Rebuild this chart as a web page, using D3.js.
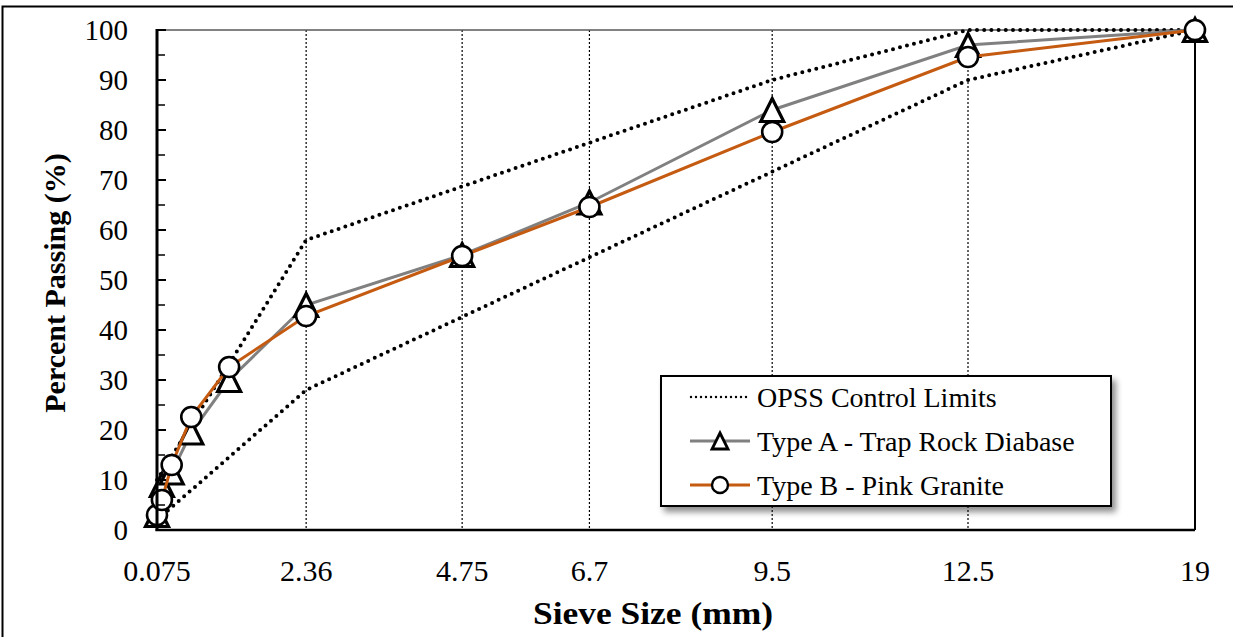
<!DOCTYPE html>
<html>
<head>
<meta charset="utf-8">
<script src="https://cdn.jsdelivr.net/npm/d3@7/dist/d3.min.js"></script>
<style>
  html, body { margin: 0; padding: 0; background: #fff; }
  svg { display: block; }
  svg text { font-family: "Liberation Serif", "Times New Roman", "DejaVu Serif", serif; fill: #000; }
</style>
</head>
<body>
<svg id="chart" width="1233" height="637"></svg>
<script>
// ---- Data ----
const sieveSizes = [0.075, 0.15, 0.3, 0.6, 1.18, 2.36, 4.75, 6.7, 9.5, 12.5, 19];
const typeA = [3, 9, 11.5, 19.5, 30, 45, 55, 65.5, 84, 97, 100];   // Trap Rock Diabase
const typeB = [3, 6, 13, 22.6, 32.6, 42.8, 54.8, 64.6, 79.6, 94.6, 100]; // Pink Granite
const upperSizes = [0.075, 2.36, 9.5, 12.5, 19];
const upperLimit = [10, 58, 90, 100, 100];
const lowerSizes = [0.075, 2.36, 12.5, 19];
const lowerLimit = [2, 28, 90, 100];
const xTickLabels = ["0.075", "2.36", "4.75", "6.7", "9.5", "12.5", "19"];
const gridSizes = [2.36, 4.75, 6.7, 9.5, 12.5];
const yTicks = [0, 10, 20, 30, 40, 50, 60, 70, 80, 90, 100];
const yMinorTicks = [5, 15, 25, 35, 45, 55, 65, 75, 85, 95];
const legendLabels = ["OPSS Control Limits", "Type A - Trap Rock Diabase", "Type B - Pink Granite"];

(function () {
const FONT = "'Liberation Serif', 'Times New Roman', 'DejaVu Serif', serif";
// ---- Layout ----
const pLeft = 157, pRight = 1195, pTop = 30, pBottom = 530;
const svg = d3.select("#chart");

// x scale: piecewise linear (chart compresses the last interval)
const x = d3.scaleLinear().domain([0.075, 12.5, 19]).range([pLeft, 968, pRight]);
const y = d3.scaleLinear().domain([0, 100]).range([pBottom, pTop]);

// outer frame (top + left visible)
svg.append("rect").attr("x", 2.5).attr("y", 6.5).attr("width", 1260).attr("height", 700)
  .attr("fill", "none").attr("stroke", "#000").attr("stroke-width", 2);

// defs: shadow
const defs = svg.append("defs");
const f = defs.append("filter").attr("id", "shadow").attr("x", "-10%").attr("y", "-10%").attr("width", "130%").attr("height", "140%");
f.append("feGaussianBlur").attr("in", "SourceAlpha").attr("stdDeviation", 3);
f.append("feOffset").attr("dx", 4).attr("dy", 5).attr("result", "ob");
f.append("feComponentTransfer").append("feFuncA").attr("type", "linear").attr("slope", 0.45);
const fm = f.append("feMerge");
fm.append("feMergeNode");
fm.append("feMergeNode").attr("in", "SourceGraphic");

// grid lines
svg.append("g").selectAll("line").data(gridSizes).join("line")
  .attr("x1", d => x(d)).attr("x2", d => x(d))
  .attr("y1", y(100)).attr("y2", y(0))
  .attr("stroke", "#000").attr("stroke-width", 1.2).attr("stroke-dasharray", "2,2");

// plot border top (gray) & right
svg.append("line").attr("x1", pLeft).attr("x2", pRight).attr("y1", pTop).attr("y2", pTop)
  .attr("stroke", "#595959").attr("stroke-width", 1.5);
svg.append("line").attr("x1", pRight).attr("x2", pRight).attr("y1", pTop).attr("y2", pBottom)
  .attr("stroke", "#000").attr("stroke-width", 2);

// control limits
const line = (xs, ys) => d3.line().x((d, i) => x(xs[i])).y(d => y(d))(ys);
const dotStyle = sel => sel.attr("fill", "none").attr("stroke", "#000").attr("stroke-width", 4)
  .attr("stroke-linecap", "round").attr("stroke-dasharray", "0,7.2");
svg.append("path").attr("d", line(upperSizes, upperLimit)).call(dotStyle);
svg.append("path").attr("d", line(lowerSizes, lowerLimit)).call(dotStyle);

// custom triangle marker (box-centred, Excel style)
const triType = {
  draw(ctx, size) {
    const h = Math.sqrt(size), w = h * 1.0;
    ctx.moveTo(0, -h / 2);
    ctx.lineTo(w / 2, h / 2);
    ctx.lineTo(-w / 2, h / 2);
    ctx.closePath();
  }
};
const triangle = d3.symbol().type(triType).size(23 * 23);
const triangleSmall = d3.symbol().type(triType).size(16 * 16);

svg.append("path").attr("d", line(sieveSizes, typeA))
  .attr("fill", "none").attr("stroke", "#808080").attr("stroke-width", 3);
svg.append("g").selectAll("path").data(typeA).join("path")
  .attr("d", triangle)
  .attr("transform", (d, i) => `translate(${x(sieveSizes[i])},${y(d)})`)
  .attr("fill", "#fff").attr("stroke", "#000").attr("stroke-width", 3.2).attr("stroke-linejoin", "miter");

svg.append("path").attr("d", line(sieveSizes, typeB))
  .attr("fill", "none").attr("stroke", "#c55a11").attr("stroke-width", 3);
svg.append("g").selectAll("circle").data(typeB).join("circle")
  .attr("cx", (d, i) => x(sieveSizes[i])).attr("cy", d => y(d)).attr("r", 10)
  .attr("fill", "#fff").attr("stroke", "#000").attr("stroke-width", 2.6);

// axes
svg.append("line").attr("x1", pLeft).attr("x2", pLeft).attr("y1", pTop - 1).attr("y2", pBottom + 1)
  .attr("stroke", "#000").attr("stroke-width", 3);
svg.append("line").attr("x1", pLeft - 1.5).attr("x2", pRight).attr("y1", pBottom).attr("y2", pBottom)
  .attr("stroke", "#000").attr("stroke-width", 2.5);
svg.append("g").selectAll("line").data(yTicks).join("line")
  .attr("x1", pLeft).attr("x2", pLeft + 9).attr("y1", d => y(d)).attr("y2", d => y(d))
  .attr("stroke", "#000").attr("stroke-width", 2);
svg.append("g").selectAll("line").data(yMinorTicks).join("line")
  .attr("x1", pLeft).attr("x2", pLeft + 8).attr("y1", d => y(d)).attr("y2", d => y(d))
  .attr("stroke", "#000").attr("stroke-width", 1.5);

svg.append("g").selectAll("text").data(yTicks).join("text")
  .attr("x", 128).attr("y", d => y(d)).attr("dy", "0.34em")
  .attr("font-family", FONT)
  .attr("text-anchor", "end").attr("font-size", 29).text(d => d);

svg.append("g").selectAll("text").data(xTickLabels).join("text")
  .attr("x", d => x(+d)).attr("y", 581)
  .attr("font-family", FONT)
  .attr("text-anchor", "middle").attr("font-size", 30).text(d => d);

// axis titles
svg.append("text").attr("x", 653).attr("y", 624).attr("text-anchor", "middle")
  .attr("font-family", FONT)
  .attr("font-size", 31).attr("font-weight", "bold")
  .attr("textLength", 240).attr("lengthAdjust", "spacingAndGlyphs")
  .text("Sieve Size (mm)");
svg.append("text").attr("transform", `translate(65,${(pTop + pBottom) / 2 + 3}) rotate(-90)`)
  .attr("font-family", FONT)
  .attr("text-anchor", "middle").attr("font-size", 30).attr("font-weight", "bold").text("Percent Passing (%)");

// legend
const lg = svg.append("g");
lg.append("rect").attr("x", 661).attr("y", 376).attr("width", 450).attr("height", 130)
  .attr("fill", "#fff").attr("stroke", "#000").attr("stroke-width", 2).attr("filter", "url(#shadow)");
const rowY = [397, 441, 485];
lg.append("line").attr("x1", 691).attr("x2", 749).attr("y1", rowY[0]).attr("y2", rowY[0])
  .attr("stroke", "#000").attr("stroke-width", 2.4).attr("stroke-linecap", "round").attr("stroke-dasharray", "0,5");
lg.append("line").attr("x1", 690).attr("x2", 750).attr("y1", rowY[1]).attr("y2", rowY[1])
  .attr("stroke", "#808080").attr("stroke-width", 3);
lg.append("path").attr("d", triangleSmall).attr("transform", `translate(720,${rowY[1]})`)
  .attr("fill", "#fff").attr("stroke", "#000").attr("stroke-width", 2.8);
lg.append("line").attr("x1", 690).attr("x2", 750).attr("y1", rowY[2]).attr("y2", rowY[2])
  .attr("stroke", "#c55a11").attr("stroke-width", 3);
lg.append("circle").attr("cx", 720).attr("cy", rowY[2]).attr("r", 8)
  .attr("fill", "#fff").attr("stroke", "#000").attr("stroke-width", 2.4);
lg.selectAll("text").data(legendLabels).join("text")
  .attr("x", 757).attr("y", (d, i) => rowY[i]).attr("dy", "0.34em")
  .attr("font-family", FONT)
  .attr("font-size", 28).text(d => d);
})();
</script>
</body>
</html>
